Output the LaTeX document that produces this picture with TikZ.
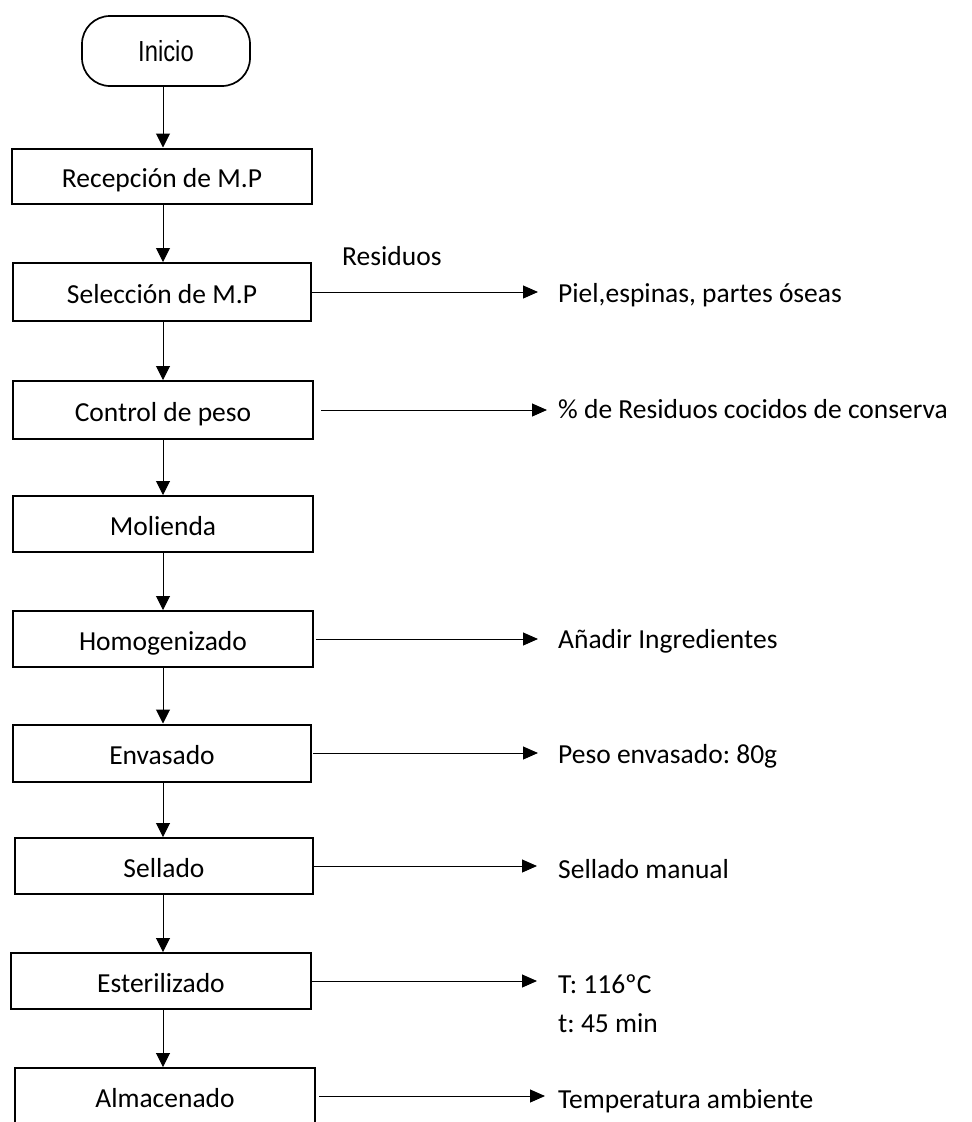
\documentclass[tikz,border=0pt]{standalone}
\usepackage{fontspec}
\setmainfont{Carlito}
\newfontfamily\inicfont[FakeStretch=0.82]{Liberation Sans}
\usetikzlibrary{arrows.meta}
\frenchspacing
\begin{document}
\begin{tikzpicture}[x=1pt,y=-1pt,
  box/.style={draw, line width=2pt, inner sep=0pt, text height=22pt, text depth=0pt,
    font=\fontsize{27.5}{30}\selectfont},
  txt/.style={anchor=base west, inner sep=0pt, font=\fontsize{27.5}{30}\selectfont},
  arr/.style={line width=1pt, -{Triangle[length=14pt,width=14pt]}},
  side/.style={line width=1pt, -{Triangle[length=15pt,width=13pt]}}]
\useasboundingbox (0,0) rectangle (972,1122);
\clip (0,0) rectangle (972,1122);
\fill[white] (0,0) rectangle (972,1122);

\node[draw, line width=1.7pt, rounded corners=28pt, minimum width=168pt, minimum height=70pt,
  inner sep=0pt, text height=21.4pt, text depth=0pt, font=\inicfont\fontsize{29}{31}\selectfont]
  (ini) at (166,51) {Inicio};

\node[box, minimum width=300pt, minimum height=55pt] (rec) at (162,176) {Recepción de M.P};
\node[box, minimum width=298pt, minimum height=58pt] (sel) at (162,292) {Selección de M.P};
\node[box, minimum width=300pt, minimum height=58pt] (ctl) at (163,410) {Control de peso};
\node[box, minimum width=300pt, minimum height=56pt] (mol) at (163,524) {Molienda};
\node[box, minimum width=300pt, minimum height=56pt] (hom) at (163,639) {Homogenizado};
\node[box, minimum width=298pt, minimum height=57pt] (env) at (162,753) {Envasado};
\node[box, minimum width=298pt, minimum height=56pt] (sell) at (164,866) {Sellado};
\node[box, minimum width=300pt, minimum height=56pt] (est) at (161,981) {Esterilizado};
\node[box, minimum width=300pt, minimum height=56pt] (alm) at (165,1096) {Almacenado};

\coordinate (ax) at (163,0);
\draw[arr] (ini.south -| ax) -- (rec.north -| ax);
\draw[arr] (rec.south -| ax) -- (sel.north -| ax);
\draw[arr] (sel.south -| ax) -- (ctl.north -| ax);
\draw[arr] (ctl.south -| ax) -- (mol.north -| ax);
\draw[arr] (mol.south -| ax) -- (hom.north -| ax);
\draw[arr] (hom.south -| ax) -- (env.north -| ax);
\draw[arr] (env.south -| ax) -- (sell.north -| ax);
\draw[arr] (sell.south -| ax) -- (est.north -| ax);
\draw[arr] (est.south -| ax) -- (alm.north -| ax);

\node[txt] (res) at (342,265) {Residuos};
\node[txt] (piel) at (558,302) {Piel,espinas, partes óseas};
\node[txt] (pct) at (558,418) {\% de Residuos cocidos de conserva};
\node[txt] (anad) at (558,648) {Añadir Ingredientes};
\node[txt] (peso) at (558,763) {Peso envasado: 80g};
\node[txt] (sman) at (558,878) {Sellado manual};
\node[txt] (tT) at (558,993) {T: 116ºC};
\node[txt] (tt) at (558,1032) {t: 45 min};
\node[txt] (temp) at (558,1108) {Temperatura ambiente};

\draw[side, shorten >=20pt] (sel.east) -- (sel.east -| piel.west);
\draw[side, shorten <=7pt, shorten >=11pt] (ctl.east) -- (ctl.east -| pct.west);
\draw[side, shorten <=2pt, shorten >=20pt] (hom.east) -- (hom.east -| anad.west);
\draw[side, shorten <=1pt, shorten >=20pt] (env.east) -- (env.east -| peso.west);
\draw[side, shorten >=21pt] (sell.east) -- (sell.east -| sman.west);
\draw[side, shorten >=21pt] (est.east) -- (est.east -| tT.west);
\draw[side, shorten <=3pt, shorten >=13pt] (alm.east) -- (alm.east -| temp.west);
\end{tikzpicture}
\end{document}
